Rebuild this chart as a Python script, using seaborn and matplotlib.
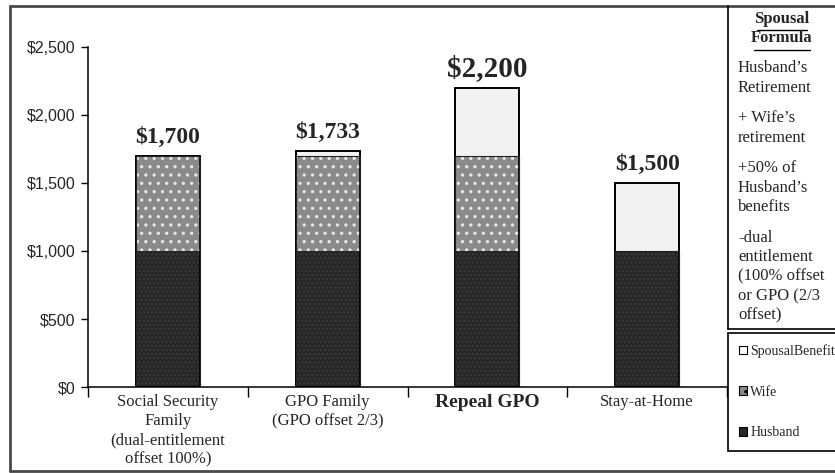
import matplotlib
matplotlib.use("Agg")
import matplotlib.pyplot as plt
import seaborn as sns
import pandas as pd
from matplotlib.patches import Patch
from matplotlib.lines import Line2D

# ---- data ----
categories = [
    "Social Security\nFamily\n(dual-entitlement\noffset 100%)",
    "GPO Family\n(GPO offset 2/3)",
    "Repeal GPO",
    "Stay-at-Home",
]
husband = [1000, 1000, 1000, 1000]
wife = [700, 700, 700, 0]
spousal = [0, 33, 500, 500]
total_labels = ["$1,700", "$1,733", "$2,200", "$1,500"]
yticks = [0, 500, 1000, 1500, 2000, 2500]
ytick_labels = ["$0", "$500", "$1,000", "$1,500", "$2,000", "$2,500"]
formula_title = ["Spousal", "Formula"]
formula_lines = [
    ["Husband\u2019s", "Retirement"],
    ["+ Wife\u2019s", "retirement"],
    ["+50% of", "Husband\u2019s", "benefits"],
    ["-dual", "entitlement", "(100% offset", "or GPO (2/3", "offset)"],
]
legend_labels = ["SpousalBenefit", "Wife", "Husband"]

# ---- style ----
sns.set_theme(style="white")
plt.rcParams["font.family"] = ["Liberation Serif", "DejaVu Serif"]
plt.rcParams["hatch.linewidth"] = 1.2

SERIF = ["Liberation Serif", "DejaVu Serif"]
NARROW = ["Liberation Sans Narrow", "Liberation Sans", "DejaVu Sans"]

C_SPOUSAL = "#f2f2f2"
C_WIFE = "#8a8a8a"
C_HUSBAND = "#262626"

W, H = 835, 473
fig = plt.figure(figsize=(W / 100, H / 100), dpi=100)
fig.patch.set_facecolor("white")


def fx(px):
    return px / W


def fy(py):
    return 1 - py / H


ax = fig.add_axes([fx(88), fy(387), fx(727) - fx(88), fy(47) - fy(387)])

df = pd.DataFrame({"category": categories, "husband": husband,
                   "wife": wife, "spousal": spousal})
df["hw"] = df["husband"] + df["wife"]
df["total"] = df["hw"] + df["spousal"]

bar_kw = dict(x="category", width=0.4, saturation=1, ax=ax, errorbar=None)
# layered stacking: tallest first, each segment covers the one behind it
sns.barplot(data=df, y="total", color=C_SPOUSAL, edgecolor="black",
            linewidth=1.2, **bar_kw)
sns.barplot(data=df, y="hw", color=C_WIFE, edgecolor="#e6e6e6",
            linewidth=0, hatch="..", **bar_kw)
sns.barplot(data=df, y="husband", color=C_HUSBAND, edgecolor="#3a3a3a",
            linewidth=0, hatch="....", **bar_kw)
# outline of the whole stack
sns.barplot(data=df, y="total", fill=False, edgecolor="black",
            linewidth=1.2, **bar_kw)
# divider lines between segments
sns.barplot(data=df, y="hw", fill=False, edgecolor="#222222",
            linewidth=0.8, **bar_kw)

ax.set_xlim(-0.5, 3.5)
ax.set_ylim(0, 2500)
ax.set_xlabel("")
ax.set_ylabel("")

# y axis
ax.set_yticks(yticks)
ax.set_yticklabels(ytick_labels, family=NARROW, fontsize=11.5)
ax.tick_params(axis="y", direction="out", length=5, width=1, color="black",
               pad=4, left=True)

# x axis: ticks at category boundaries, labels centred on bars
ax.set_xticks([-0.5, 0.5, 1.5, 2.5, 3.5])
ax.set_xticklabels([])
ax.set_xticks(range(len(categories)), minor=True)
ax.set_xticklabels(categories, minor=True, family=SERIF, fontsize=12,
                   linespacing=1.26, va="top")
ax.tick_params(axis="x", which="major", direction="out", length=7, width=1,
               color="black", bottom=True)
ax.tick_params(axis="x", which="minor", length=0, pad=5)
for lab in ax.get_xticklabels(minor=True):
    if lab.get_text() == "Repeal GPO":
        lab.set_fontweight("bold")
        lab.set_fontsize(14)

for side in ["top", "right"]:
    ax.spines[side].set_visible(False)
for side in ["left", "bottom"]:
    ax.spines[side].set_color("black")
    ax.spines[side].set_linewidth(1.1)

# totals above each stack
for i, (tot, lab) in enumerate(zip(df["total"], total_labels)):
    big = categories[i] == "Repeal GPO"
    ax.annotate(lab, (i, tot), xytext=(0, 4 if big else 6),
                textcoords="offset points", ha="center", va="bottom",
                fontsize=21 if big else 17, fontweight="bold", family=SERIF)

# ---- frame and side panel ----
frame_kw = dict(transform=fig.transFigure, color="#4a4a4a", lw=2)
fig.add_artist(Line2D([fx(10), fx(10)], [fy(6), fy(471)], **frame_kw))
fig.add_artist(Line2D([fx(10), 1], [fy(6), fy(6)], **frame_kw))
fig.add_artist(Line2D([fx(10), 1], [fy(471), fy(471)], **frame_kw))

panel_kw = dict(transform=fig.transFigure, color="black", lw=1.2)
fig.add_artist(Line2D([fx(728), fx(728)], [fy(6), fy(329)], **panel_kw))
fig.add_artist(Line2D([fx(728), 1], [fy(329), fy(329)], **panel_kw))

# formula heading with underlines
title_y = [19, 38]
for t, y in zip(formula_title, title_y):
    fig.text(fx(782), fy(y), t, ha="center", va="center", fontsize=12,
             fontweight="bold", family=SERIF)
fig.add_artist(Line2D([fx(757), fx(807)], [fy(30), fy(30)],
                      transform=fig.transFigure, color="black", lw=1))
fig.add_artist(Line2D([fx(754), fx(810)], [fy(50), fy(50)],
                      transform=fig.transFigure, color="black", lw=1))

y = 68
for block in formula_lines:
    for line in block:
        fig.text(fx(738), fy(y), line, ha="left", va="center", fontsize=12,
                 family=SERIF)
        y += 19.5
    y += 11

# legend
handles = [
    Patch(facecolor="white", edgecolor="black", linewidth=0.8),
    Patch(facecolor=C_WIFE, edgecolor="black", linewidth=0.8, hatch=".."),
    Patch(facecolor=C_HUSBAND, edgecolor="black", linewidth=0.8),
]
leg = fig.legend(handles, legend_labels, loc="upper left",
                 bbox_to_anchor=(fx(728), fy(333)), frameon=True,
                 fancybox=False, edgecolor="black", framealpha=1,
                 prop={"family": SERIF, "size": 10}, handlelength=0.6,
                 handleheight=0.6, handletextpad=0.2, labelspacing=2.0,
                 borderpad=0.8, borderaxespad=0)
leg.get_frame().set_linewidth(1.2)

fig.savefig("out.png", dpi=100, facecolor="white")
